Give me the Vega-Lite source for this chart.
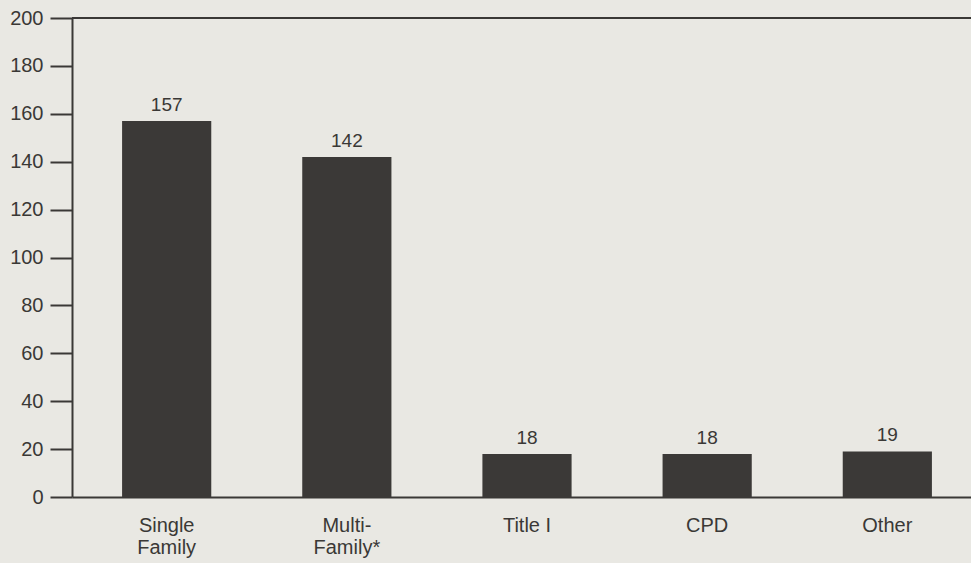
{
  "$schema": "https://vega.github.io/schema/vega-lite/v6.json",
  "width": 899,
  "height": 479,
  "autosize": {"type": "none"},
  "padding": {"left": 72, "top": 18, "right": 0, "bottom": 66},
  "background": "#e9e8e3",
  "config": {
    "view": {"stroke": null},
    "font": "Liberation Sans",
    "axis": {"grid": false}
  },
  "data": {
    "values": [
      {"program": "Single Family", "value": 157},
      {"program": "Multi-Family*", "value": 142},
      {"program": "Title I", "value": 18},
      {"program": "CPD", "value": 18},
      {"program": "Other", "value": 19}
    ]
  },
  "encoding": {
    "x": {
      "field": "program",
      "type": "nominal",
      "sort": null,
      "scale": {"paddingInner": 0.505, "paddingOuter": 0.278, "range": [0, 910]},
      "axis": {
        "title": null,
        "labelAngle": 0,
        "ticks": false,
        "domainColor": "#3a3836",
        "domainWidth": 2,
        "labelFontSize": 20,
        "labelColor": "#3a3836",
        "labelPadding": 18,
        "labelLineHeight": 22,
        "labelExpr": "datum.value == 'Single Family' ? ['Single', 'Family'] : datum.value == 'Multi-Family*' ? ['Multi-', 'Family*'] : datum.value"
      }
    }
  },
  "layer": [
    {
      "mark": {"type": "bar", "color": "#3b3937"},
      "encoding": {
        "y": {
          "field": "value",
          "type": "quantitative",
          "scale": {"domain": [0, 200], "nice": false},
          "axis": {
            "title": null,
            "values": [0, 20, 40, 60, 80, 100, 120, 140, 160, 180, 200],
            "tickSize": 22,
            "tickWidth": 2,
            "tickColor": "#3a3836",
            "domainColor": "#3a3836",
            "domainWidth": 2,
            "labelFontSize": 20,
            "labelColor": "#3a3836",
            "labelPadding": 7
          }
        }
      }
    },
    {
      "mark": {"type": "text", "baseline": "alphabetic", "dy": -10, "fontSize": 19, "color": "#3a3836"},
      "encoding": {
        "y": {"field": "value", "type": "quantitative"},
        "text": {"field": "value", "type": "quantitative"}
      }
    },
    {
      "data": {"values": [{"top": 200}]},
      "mark": {"type": "rule", "color": "#3a3836", "strokeWidth": 2},
      "encoding": {
        "y": {"field": "top", "type": "quantitative"},
        "x": {"value": 0},
        "x2": {"value": 910}
      }
    }
  ]
}
